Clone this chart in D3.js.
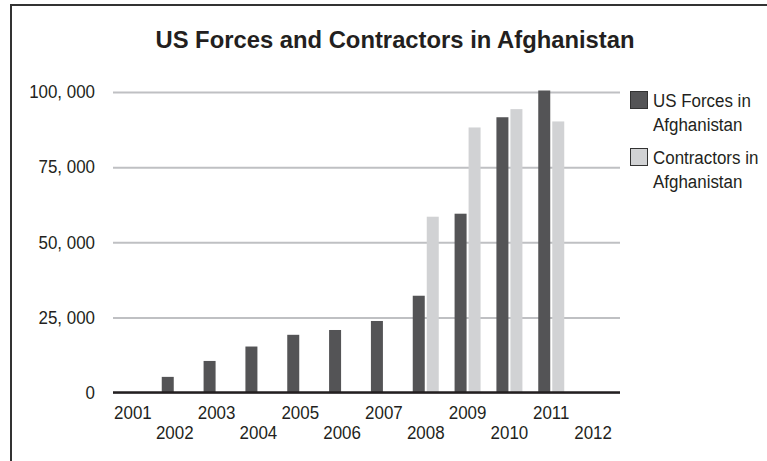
<!DOCTYPE html>
<html>
<head>
<meta charset="utf-8">
<script src="https://cdn.jsdelivr.net/npm/d3@7"></script>
<style>
  body { margin: 0; background: #fff; }
  svg { display: block; font-family: "Liberation Sans", Arial, Helvetica, sans-serif; }
</style>
</head>
<body>
<div id="chart"></div>
<script>
const years = ['2001', '2002', '2003', '2004', '2005', '2006', '2007', '2008', '2009', '2010', '2011', '2012'];
const usForces = [0, 5200, 10500, 15300, 19200, 20800, 23800, 32200, 59500, 91600, 100500, 0];
const contractors = [0, 0, 0, 0, 0, 0, 0, 58500, 88200, 94300, 90200, 0];
const seriesNames = ['US Forces in Afghanistan', 'Contractors in Afghanistan'];
const legendLines = [['US Forces in', 'Afghanistan'], ['Contractors in', 'Afghanistan']];
const yTicks = [0, 25000, 50000, 75000, 100000];
const chartTitle = 'US Forces and Contractors in Afghanistan';

const width = 767;
const height = 461;
const colors = ['#545456', '#d1d2d4'];
const fontSize = 18;

const svg = d3.select('#chart').append('svg')
  .attr('width', width)
  .attr('height', height);

// frame (right/bottom edges fall outside the picture)
svg.append('rect')
  .attr('x', 11)
  .attr('y', 5)
  .attr('width', 800)
  .attr('height', 500)
  .attr('fill', 'none')
  .attr('stroke', '#333')
  .attr('stroke-width', 2);

svg.append('text')
  .attr('x', 395)
  .attr('y', 48)
  .attr('text-anchor', 'middle')
  .attr('font-size', 23.8)
  .attr('font-weight', 'bold')
  .attr('fill', '#231f20')
  .text(chartTitle);

const plot = { left: 113, right: 620, top: 92, bottom: 392.5 };

const xScale = d3.scaleBand()
  .domain(years)
  .range([112, 614]);

const xInner = d3.scaleBand()
  .domain(seriesNames)
  .range([-13, 13])
  .paddingInner(2 / 14);

const yScale = d3.scaleLinear()
  .domain([0, 100000])
  .range([plot.bottom, plot.top]);

const fmt = v => d3.format(',')(v).replace(',', ', ');

// gridlines + y labels
const yAxis = d3.axisLeft(yScale)
  .tickValues(yTicks)
  .tickSize(-(plot.right - plot.left))
  .tickPadding(18)
  .tickFormat(fmt);

const yAxisG = svg.append('g')
  .attr('class', 'y-axis')
  .attr('transform', `translate(${plot.left}, 0)`)
  .call(yAxis);
yAxisG.select('.domain').remove();
yAxisG.selectAll('line')
  .attr('stroke', '#bfc0c3')
  .attr('stroke-width', 2);
yAxisG.selectAll('text')
  .attr('class', 'narrow')
  .attr('font-size', fontSize)
  .attr('font-family', '"Liberation Sans", Arial, sans-serif')
  .attr('fill', '#231f20');

// bars
const rows = years.map((y, i) => ({ year: y, values: [usForces[i], contractors[i]] }));

const groups = svg.append('g')
  .selectAll('.year-group').data(rows)
  .enter().append('g')
    .attr('class', 'year-group')
    .attr('transform', d => `translate(${xScale(d.year) + xScale.bandwidth() / 2}, 0)`);

groups.selectAll('rect')
  .data(d => d.values.map((v, k) => ({ key: seriesNames[k], value: v, k })))
  .enter().append('rect')
    .attr('x', d => xInner(d.key))
    .attr('width', xInner.bandwidth())
    .attr('y', d => yScale(d.value))
    .attr('height', d => yScale(0) - yScale(d.value))
    .attr('fill', d => colors[d.k]);

// baseline
svg.append('line')
  .attr('x1', plot.left)
  .attr('x2', plot.right)
  .attr('y1', yScale(0))
  .attr('y2', yScale(0))
  .attr('stroke', '#231f20')
  .attr('stroke-width', 2.5);

// x labels, staggered in two rows
svg.append('g')
  .selectAll('text').data(years)
  .enter().append('text')
    .attr('class', 'narrow')
    .attr('x', d => xScale(d) + xScale.bandwidth() / 2)
    .attr('y', (d, i) => i % 2 === 0 ? 419 : 439)
    .attr('text-anchor', 'middle')
    .attr('font-size', fontSize)
    .attr('fill', '#231f20')
    .text(d => d);

// legend
const legend = svg.append('g')
  .selectAll('.legend-item').data(seriesNames)
  .enter().append('g')
    .attr('class', 'legend-item')
    .attr('transform', (d, i) => `translate(630, ${91 + i * 57})`);

legend.append('rect')
  .attr('x', 0.5)
  .attr('y', 0.5)
  .attr('width', 17)
  .attr('height', 17)
  .attr('fill', (d, i) => colors[i])
  .attr('stroke', '#333')
  .attr('stroke-width', 1);

legend.selectAll('text')
  .data((d, i) => legendLines[i])
  .enter().append('text')
    .attr('class', 'narrow')
    .attr('x', 23)
    .attr('y', (d, j) => 16 + j * 23.5)
    .attr('font-size', fontSize)
    .attr('fill', '#231f20')
    .text(d => d);

// the source font is a bit condensed
svg.selectAll('text.narrow').each(function() {
  const len = this.getComputedTextLength();
  d3.select(this)
    .attr('textLength', len * 0.94)
    .attr('lengthAdjust', 'spacingAndGlyphs');
});
</script>
</body>
</html>
